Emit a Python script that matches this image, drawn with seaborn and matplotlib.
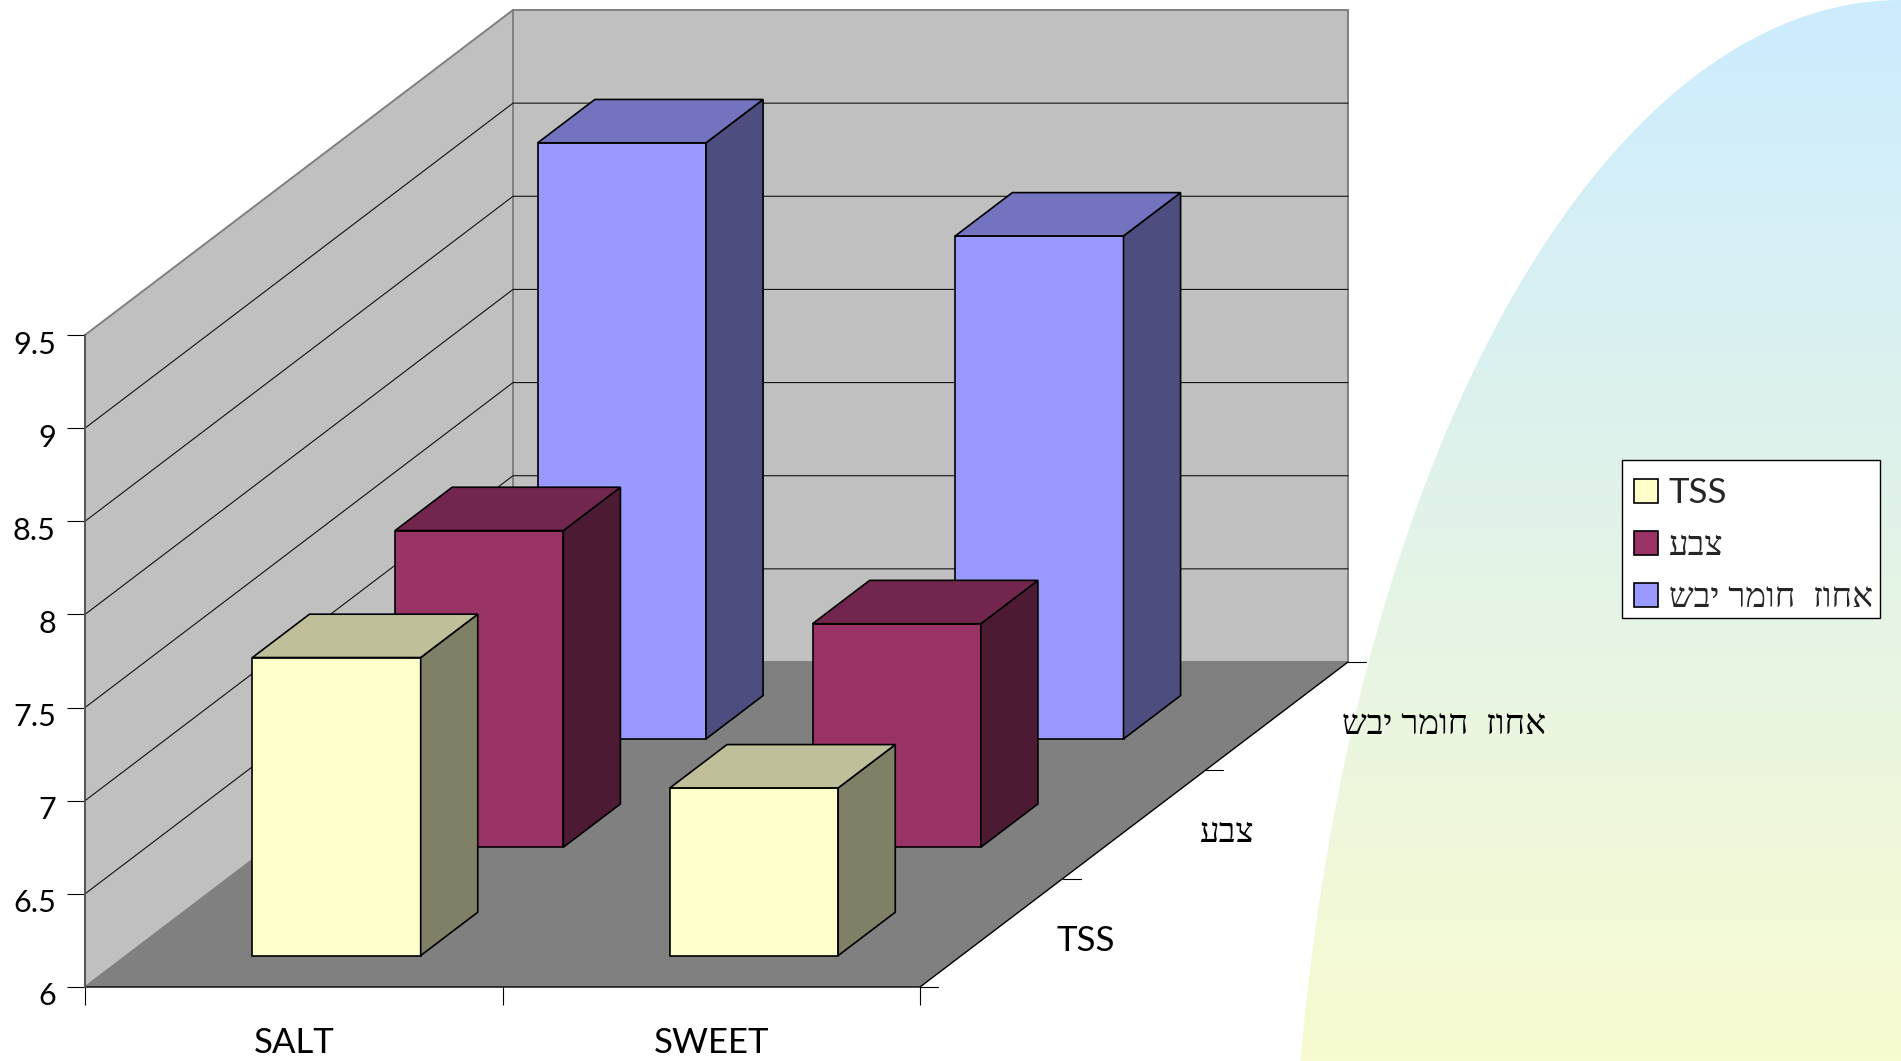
"""Pseudo-3D clustered bar chart: seaborn draws the front faces, sides are added on top."""
import matplotlib

matplotlib.use("Agg")
import matplotlib.pyplot as plt  # noqa: E402
from matplotlib.colors import LinearSegmentedColormap, to_rgb  # noqa: E402
from matplotlib.patches import Ellipse, Polygon, Rectangle  # noqa: E402
from matplotlib.transforms import ScaledTranslation  # noqa: E402

import numpy as np  # noqa: E402
import pandas as pd  # noqa: E402
import seaborn as sns  # noqa: E402

# Data
PRODUCTS = ["SALT", "SWEET"]
SERIES = ["TSS", "צבע", "אחוז  חומר יבש"]
TSS_VALUES = [7.6, 6.9]
COLOUR_VALUES = [7.7, 7.2]
DRY_VALUES = [9.2, 8.7]
Y_TICKS = [6, 6.5, 7, 7.5, 8, 8.5, 9, 9.5]
Y_TICK_LABELS = ["6", "6.5", "7", "7.5", "8", "8.5", "9", "9.5"]
SERIES_COLOURS = ["#FFFFCC", "#993366", "#9999FF"]

# Layout of the oblique projection, pixels of the 1901x1061 figure
W, H = 1901, 1061
LEFT, RIGHT, BOTTOM, TOP = 85, 920, 987, 335
Y_MIN, Y_MAX = 6, 9.5
DX = (1348 - 920) / 3 / ((RIGHT - LEFT) / 2)  # one depth slot, category units
DY = (987 - 662) / 3 / ((BOTTOM - TOP) / 3.5)  # one depth slot, value units
BAR_W = 0.403
BAR_START_X, BAR_START_Y, BAR_DEPTH = 0.3, 0.29, 0.4

FONT = ["Lato", "Liberation Serif"]
GREY = "#808080"


def rtl(s):
    # matplotlib has no bidi support, Hebrew must be handed over in visual order
    return s[::-1] if any("\u0590" <= c <= "\u05ff" for c in s) else s


def shade(colour, k):
    return tuple(c * k for c in to_rgb(colour))


def draw_background(fig):
    """White page with the pale gradient arc on the right."""
    bg = fig.add_axes([0, 0, 1, 1], zorder=0)
    bg.set_xlim(0, W)
    bg.set_ylim(H, 0)
    bg.axis("off")
    cmap = LinearSegmentedColormap.from_list("page", ["#CCECFF", "#F8FBD1"])
    img = bg.imshow(np.linspace(0, 1, 256)[:, None], extent=(0, W, H, 0), cmap=cmap,
                    aspect="auto")
    arc = Ellipse((W, 1300), 2 * 611, 2 * 1300, transform=bg.transData, fc="none", ec="none")
    bg.add_patch(arc)
    img.set_clip_path(arc)


def draw_walls(ax):
    """Side wall, back wall, floor and grid, all in data coordinates."""
    dx3, dy3 = 3 * DX, 3 * DY
    x0, x1 = -0.5, 1.5
    ax.add_patch(Polygon([(x0, Y_MIN), (x0 + dx3, Y_MIN + dy3), (x0 + dx3, Y_MAX + dy3), (x0, Y_MAX)],
                         fc="#C0C0C0", ec=GREY, lw=1.4, clip_on=False, zorder=1))
    ax.add_patch(Polygon([(x0 + dx3, Y_MIN + dy3), (x1 + dx3, Y_MIN + dy3),
                          (x1 + dx3, Y_MAX + dy3), (x0 + dx3, Y_MAX + dy3)],
                         fc="#C0C0C0", ec=GREY, lw=1.4, clip_on=False, zorder=1))
    for v in Y_TICKS[1:-1]:
        ax.plot([x0, x0 + dx3, x1 + dx3], [v, v + dy3, v + dy3], color="#111111", lw=0.8,
                clip_on=False, zorder=2)
    ax.add_patch(Polygon([(x0, Y_MIN), (x1, Y_MIN), (x1 + dx3, Y_MIN + dy3), (x0 + dx3, Y_MIN + dy3)],
                         fc=GREY, ec="none", clip_on=False, zorder=3))
    ax.plot([x0, x1, x1 + dx3], [Y_MIN, Y_MIN, Y_MIN + dy3], color="black", lw=1.0,
            clip_on=False, zorder=4)
    # depth axis ticks and labels
    tick = 18 / ((RIGHT - LEFT) / 2)
    for d in range(4):
        ax.plot([x1 + d * DX, x1 + d * DX + tick], [Y_MIN + d * DY] * 2, color="black", lw=0.8,
                clip_on=False, zorder=4)
    for d, name in enumerate(SERIES):
        ax.annotate(rtl(name), ((x1 + (d + 0.5) * DX), Y_MIN + (d + 0.5) * DY),
                    xytext=(65, -8), textcoords="offset pixels", ha="left", va="center",
                    fontsize=25, family=FONT, color="black", annotation_clip=False)


def draw_bars(ax, df):
    """Bars come from seaborn at the front plane, then move back to their depth slot."""
    sns.barplot(data=df, x="product", y="value", hue="param", hue_order=SERIES,
                palette=dict(zip(SERIES, SERIES_COLOURS)), order=PRODUCTS, dodge=False,
                saturation=1, width=BAR_W, edgecolor="black", linewidth=1.2, errorbar=None,
                legend=False, ax=ax)
    for d, container in enumerate(ax.containers):
        base = SERIES_COLOURS[d]
        z = 20 - d
        off_x = (d + BAR_START_X) * DX
        off_y = (d + BAR_START_Y) * DY
        for bar in container:
            value = bar.get_height()
            bar.set_x(bar.get_x() + off_x)
            bar.set_y(Y_MIN + off_y)
            bar.set_height(value - Y_MIN)
            bar.set_clip_on(False)
            bar.set_zorder(z)
            xl, xr = bar.get_x(), bar.get_x() + bar.get_width()
            yb, yt = bar.get_y(), bar.get_y() + bar.get_height()
            bx, by = BAR_DEPTH * DX, BAR_DEPTH * DY
            ax.add_patch(Polygon([(xr, yb), (xr + bx, yb + by), (xr + bx, yt + by), (xr, yt)],
                                 fc=shade(base, 0.5), ec="black", lw=1.2, clip_on=False, zorder=z))
            ax.add_patch(Polygon([(xl, yt), (xr, yt), (xr + bx, yt + by), (xl + bx, yt + by)],
                                 fc=shade(base, 0.75), ec="black", lw=1.2, clip_on=False, zorder=z))


def main():
    sns.set_theme(style="white")
    plt.rcParams["font.family"] = FONT
    fig = plt.figure(figsize=(W / 100, H / 100), dpi=100, facecolor="white")
    draw_background(fig)

    ax = fig.add_axes([LEFT / W, (H - BOTTOM) / H, (RIGHT - LEFT) / W, (BOTTOM - TOP) / H], zorder=1)
    ax.patch.set_alpha(0)

    df = pd.DataFrame({
        "product": PRODUCTS * 3,
        "param": [s for s in SERIES for _ in PRODUCTS],
        "value": TSS_VALUES + COLOUR_VALUES + DRY_VALUES,
    })
    draw_bars(ax, df)
    draw_walls(ax)

    ax.set_xlim(-0.5, 1.5)
    ax.set_ylim(Y_MIN, Y_MAX)
    ax.set_xlabel("")
    ax.set_ylabel("")
    for side in ["top", "right", "bottom"]:
        ax.spines[side].set_visible(False)
    ax.spines["left"].set_color("#555555")
    ax.spines["left"].set_linewidth(1.4)
    ax.spines["left"].set_zorder(6)

    # y axis labels sit a little under their ticks
    ax.set_yticks(Y_TICKS, Y_TICK_LABELS)
    ax.tick_params(axis="y", length=13, width=0.8, color="black", pad=8, labelsize=22,
                   labelcolor="black", left=True)
    shift = ScaledTranslation(0, -7 / 100, fig.dpi_scale_trans)
    for label in ax.get_yticklabels():
        label.set_transform(label.get_transform() + shift)

    ax.set_xticks([0, 1], PRODUCTS)
    ax.set_xticks([-0.5, 0.5, 1.5], minor=True)
    ax.tick_params(axis="x", which="major", length=0, pad=29, labelsize=25, labelcolor="black")
    ax.tick_params(axis="x", which="minor", length=13, width=0.8, color="black", bottom=True)
    ax.xaxis.get_minor_ticks()[0].tick1line.set_color("#777777")

    # frame is drawn apart from the legend so rows can sit low inside it, as in the reference
    ax.add_patch(Rectangle((1622 / W, 1 - 618 / H), 258 / W, 158 / H, transform=fig.transFigure,
                           fc="white", ec="black", lw=1.0, clip_on=False, zorder=49))
    handles = [c[0] for c in ax.containers]
    leg = ax.legend(handles, [rtl(s) for s in SERIES], loc="upper left",
                    bbox_to_anchor=(1622 / W, 1 - 465 / H), bbox_transform=fig.transFigure,
                    borderaxespad=0, frameon=False, fontsize=25, handlelength=0.69,
                    handleheight=0.69, handletextpad=0.3, borderpad=0.35, labelspacing=0.58)
    leg.set_zorder(50)

    fig.savefig("out.png", dpi=100, facecolor="white")
    plt.close(fig)


if __name__ == "__main__":
    main()
